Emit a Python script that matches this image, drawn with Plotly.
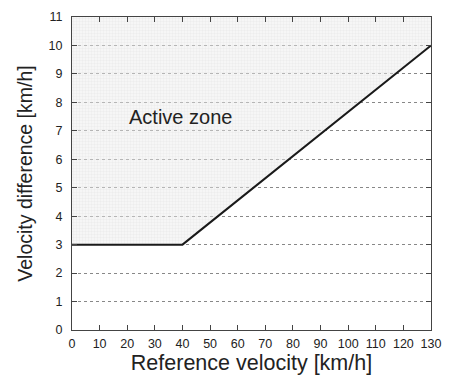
import plotly.graph_objects as go

# Data
threshold_x = [0, 40, 130]
threshold_y = [3, 3, 10]
x_ticks = list(range(0, 131, 10))
y_ticks = list(range(0, 12, 1))
zone_label = "Active zone"
x_max = 130
y_max = 11

FONT = "Liberation Sans, Arial"

fig = go.Figure()

# Active zone shading (above the threshold line)
zone_x = threshold_x + [x_max, threshold_x[0]]
zone_y = threshold_y + [y_max, y_max]
fig.add_trace(go.Scatter(
    x=zone_x, y=zone_y, mode="lines", fill="toself",
    fillcolor="rgba(215,215,215,0.35)", line=dict(width=0), hoverinfo="skip", showlegend=False,
    fillpattern=dict(shape="+", size=3, solidity=0.2, fgcolor="rgba(190,190,190,0.6)",
                     bgcolor="rgba(235,235,235,0.45)"),
))

fig.add_trace(go.Scatter(
    x=threshold_x, y=threshold_y, mode="lines",
    line=dict(color="#1a1a1a", width=2), showlegend=False,
))

fig.add_annotation(x=20, y=7.5, text=zone_label, showarrow=False, xanchor="left",
                   font=dict(size=20, color="#222", family=FONT))

axis_common = dict(
    showline=True, linecolor="#444", linewidth=1.2, mirror="ticks",
    ticks="inside", ticklen=5, tickcolor="#444", zeroline=False,
    tickfont=dict(size=12.5, color="#222", family=FONT),
)

fig.update_xaxes(
    range=[0, x_max], tickvals=x_ticks, showgrid=False, ticklabelstandoff=2,
    title=dict(text="Reference velocity [km/h]", font=dict(size=21.5, color="#222", family=FONT), standoff=2),
    **axis_common,
)
fig.update_yaxes(
    range=[0, y_max], tickvals=y_ticks, showgrid=True, gridcolor="#888", griddash="dot", gridwidth=1,
    ticklabelstandoff=6,
    title=dict(text="Velocity difference [km/h]", font=dict(size=19.5, color="#222", family=FONT), standoff=10),
    **axis_common,
)

fig.update_layout(
    width=451, height=379,
    margin=dict(l=72, r=18, t=10, b=49),
    paper_bgcolor="white", plot_bgcolor="white",
)

fig.write_html("out.html")
